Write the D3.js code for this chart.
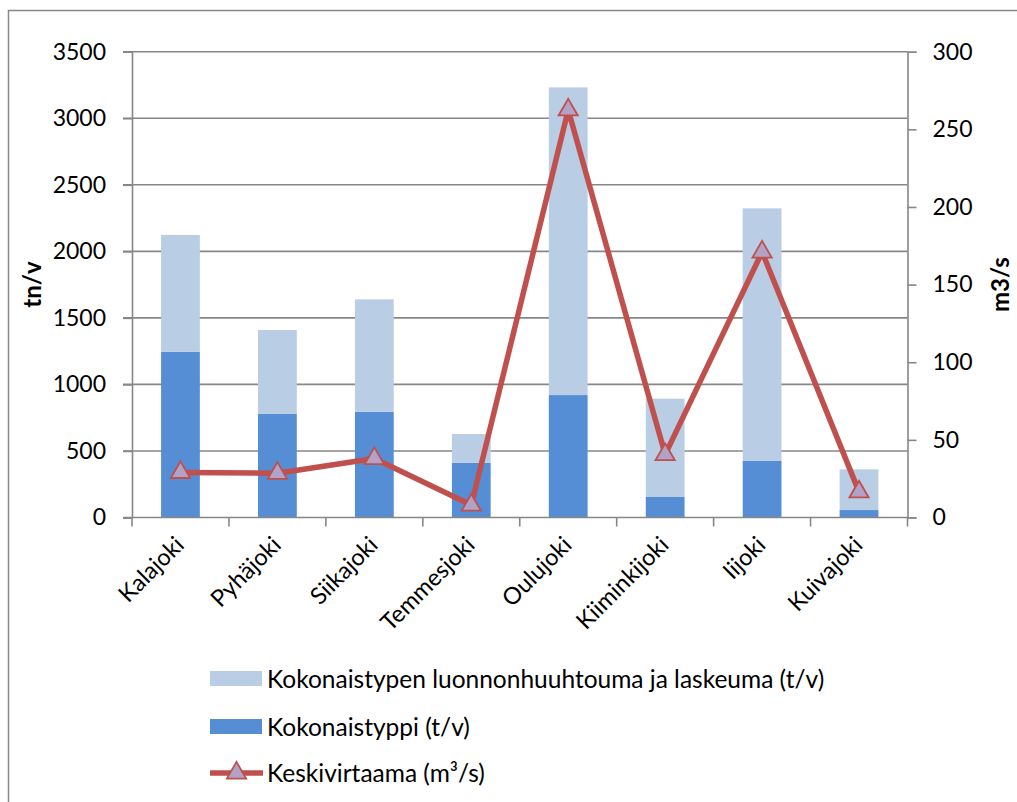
<!DOCTYPE html>
<html>
<head>
<meta charset="utf-8">
<script src="https://cdn.jsdelivr.net/npm/d3@7/dist/d3.min.js"></script>
<style>
  html, body { margin: 0; padding: 0; background: #fff; }
  svg { display: block; }
  text { font-family: Lato, "Open Sans", sans-serif; fill: #000; }
</style>
</head>
<body>
<svg id="chart" width="1017" height="802"></svg>
<script>
// River nitrogen loads (t/v) and mean discharge (m³/s)
const rivers = ["Kalajoki", "Pyhäjoki", "Siikajoki", "Temmesjoki", "Oulujoki", "Kiiminkijoki", "Iijoki", "Kuivajoki"];
const totalNitrogen = [1246, 778, 795, 410, 920, 154, 425, 56];          // Kokonaistyppi (t/v)
const naturalLoad   = [877, 631, 844, 217, 2312, 739, 1898, 306];        // luonnonhuuhtouma ja laskeuma (t/v)
const meanFlow      = [29, 28.5, 38, 8, 262.5, 40.5, 171, 16.5];         // Keskivirtaama (m³/s)
const leftTicks  = [0, 500, 1000, 1500, 2000, 2500, 3000, 3500];
const rightTicks = [0, 50, 100, 150, 200, 250, 300];

const seriesNames = {
  natural: "Kokonaistypen luonnonhuuhtouma ja laskeuma (t/v)",
  total: "Kokonaistyppi (t/v)",
  flow: "Keskivirtaama (m³/s)"
};
const colors = { natural: "#b9cde5", total: "#558ed5", line: "#c0504d", marker: "#b3a2c7", axis: "#878787" };

const svg = d3.select("#chart");
const plot = { left: 132, right: 907.5, top: 51.7, bottom: 517.5 };

// outer frame
svg.append("rect")
  .attr("x", 8.5).attr("y", 10.5).attr("width", 1100).attr("height", 1000)
  .attr("fill", "none").attr("stroke", "#888").attr("stroke-width", 1.5);

const x = d3.scaleBand().domain(rivers).range([plot.left, plot.right]).paddingInner(0.6).paddingOuter(0.3);
const xTick = d3.scaleBand().domain(rivers).range([plot.left, plot.right]);
const yL = d3.scaleLinear().domain([0, 3500]).range([plot.bottom, plot.top]);
const yR = d3.scaleLinear().domain([0, 300]).range([plot.bottom, plot.top]);

// gridlines
svg.append("g").selectAll("line").data(leftTicks.filter(d => d > 0)).join("line")
  .attr("x1", plot.left - 9).attr("x2", plot.right)
  .attr("y1", d => yL(d)).attr("y2", d => yL(d))
  .attr("stroke", colors.axis).attr("stroke-width", 1.6);

// stacked bars
const stackData = rivers.map((r, i) => ({ river: r, total: totalNitrogen[i], natural: naturalLoad[i] }));
const stacked = d3.stack().keys(["total", "natural"])(stackData);
svg.append("g").selectAll("g").data(stacked).join("g")
  .attr("fill", d => colors[d.key])
  .selectAll("rect").data(d => d).join("rect")
  .attr("x", d => x(d.data.river))
  .attr("width", x.bandwidth())
  .attr("y", d => yL(d[1]))
  .attr("height", d => yL(d[0]) - yL(d[1]));

// left axis
const axisL = d3.axisLeft(yL).tickValues(leftTicks).tickSize(9).tickFormat(d3.format("d"));
const gL = svg.append("g").attr("transform", `translate(${plot.left},0)`).call(axisL);
gL.select(".domain").attr("stroke", colors.axis).attr("stroke-width", 1.6);
gL.selectAll(".tick line").attr("stroke", colors.axis).attr("stroke-width", 1.6);
gL.selectAll(".tick text").attr("x", -26).attr("font-size", 23).attr("font-family", "Lato, sans-serif");

// right axis
const axisR = d3.axisRight(yR).tickValues(rightTicks).tickSize(9).tickFormat(d3.format("d"));
const gR = svg.append("g").attr("transform", `translate(${plot.right},0)`).call(axisR);
gR.select(".domain").attr("stroke", colors.axis).attr("stroke-width", 1.6);
gR.selectAll(".tick line").attr("stroke", colors.axis).attr("stroke-width", 1.6);
gR.selectAll(".tick text").attr("x", 25).attr("font-size", 23).attr("font-family", "Lato, sans-serif");

// bottom axis
const gB = svg.append("g").attr("transform", `translate(0,${plot.bottom})`);
gB.append("line").attr("x1", plot.left - 9).attr("x2", plot.right)
  .attr("stroke", colors.axis).attr("stroke-width", 1.6);
gB.selectAll("line.tk").data(rivers.concat(["__end"])).join("line").attr("class", "tk")
  .attr("x1", (d, i) => i < rivers.length ? xTick(d) : plot.right)
  .attr("x2", (d, i) => i < rivers.length ? xTick(d) : plot.right)
  .attr("y1", 0).attr("y2", 9)
  .attr("stroke", colors.axis).attr("stroke-width", 1.6);
gB.selectAll("text").data(rivers).join("text")
  .attr("transform", d => `translate(${x(d) + x.bandwidth() / 2 + 5},${29}) rotate(-45)`)
  .attr("text-anchor", "end")
  .attr("font-size", 23.5)
  .text(d => d);

// axis titles
svg.append("text").attr("transform", `translate(41,${(plot.top + plot.bottom) / 2}) rotate(-90)`)
  .attr("text-anchor", "middle").attr("font-size", 24).attr("font-weight", "bold").text("tn/v");
svg.append("text").attr("transform", `translate(1009,${(plot.top + plot.bottom) / 2}) rotate(-90)`)
  .attr("text-anchor", "middle").attr("font-size", 24).attr("font-weight", "bold").text("m3/s");

// discharge line with triangle markers
const cx = d => x(d) + x.bandwidth() / 2;
const lineGen = d3.line().x((d, i) => cx(rivers[i])).y(d => yR(d));
svg.append("path").datum(meanFlow).attr("d", lineGen)
  .attr("fill", "none").attr("stroke", colors.line).attr("stroke-width", 5.5).attr("stroke-linejoin", "round");
const tri = d3.symbol().type(d3.symbolTriangle).size(160);
svg.append("g").selectAll("path").data(meanFlow).join("path")
  .attr("transform", (d, i) => `translate(${cx(rivers[i])},${yR(d)})`)
  .attr("d", tri)
  .attr("fill", colors.marker).attr("stroke", colors.line).attr("stroke-width", 1.8);

// legend
const legend = svg.append("g");
const rows = [
  { key: "natural", y: 679 },
  { key: "total", y: 727 },
  { key: "flow", y: 773 }
];
rows.forEach(r => {
  if (r.key === "flow") {
    legend.append("line").attr("x1", 210).attr("x2", 263).attr("y1", r.y).attr("y2", r.y)
      .attr("stroke", colors.line).attr("stroke-width", 5.5);
    legend.append("path").attr("transform", `translate(236.5,${r.y})`).attr("d", tri)
      .attr("fill", colors.marker).attr("stroke", colors.line).attr("stroke-width", 1.8);
  } else {
    legend.append("rect").attr("x", 210).attr("y", r.y - 8).attr("width", 52).attr("height", 15)
      .attr("fill", colors[r.key]);
  }
  legend.append("text").attr("x", 267).attr("y", r.y).attr("dy", "0.35em")
    .attr("font-size", 24.5).text(seriesNames[r.key]);
});
</script>
</body>
</html>
